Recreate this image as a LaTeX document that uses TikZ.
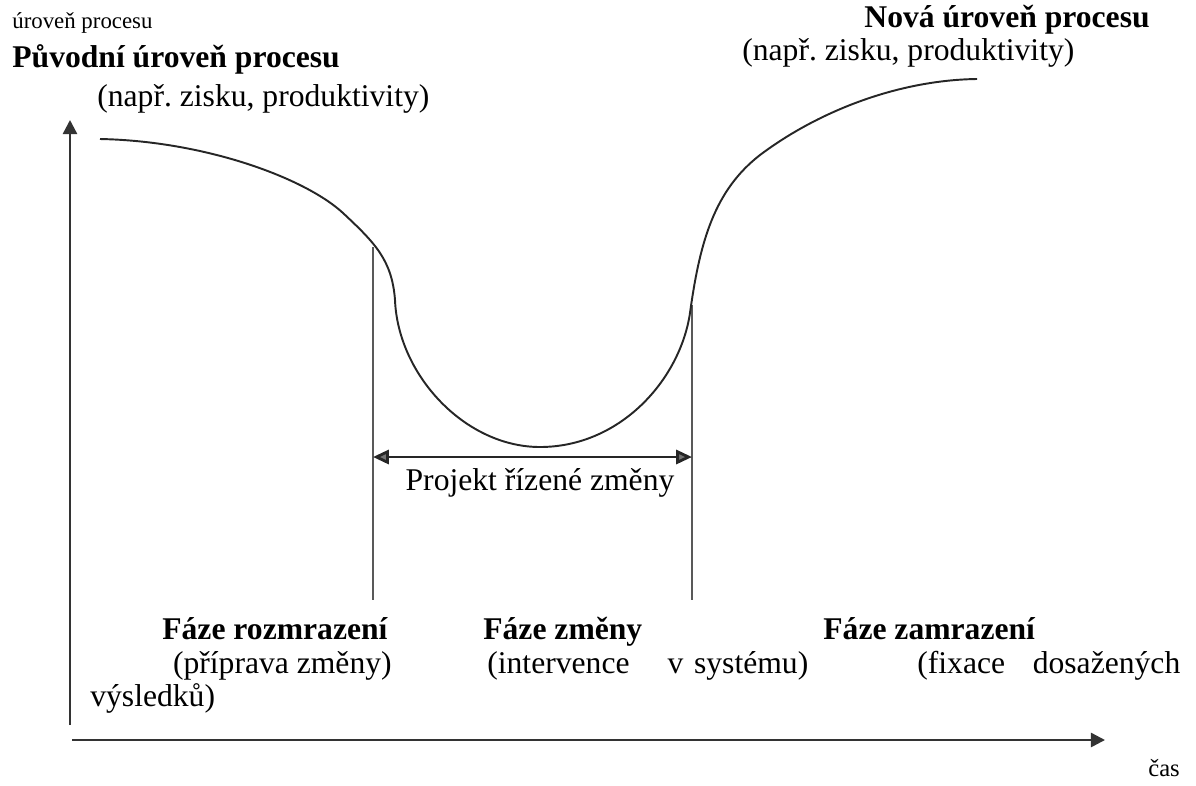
\documentclass[tikz,border=0pt]{standalone}
\usepackage{fontspec}
\setmainfont{Liberation Serif}
\usepackage{tikz}
\usetikzlibrary{positioning, arrows.meta}
\frenchspacing

\begin{document}
\begin{tikzpicture}[x=0.02cm, y=-0.02cm,
  txt/.style={inner sep=0pt, anchor=base west, font=\fontsize{18}{21}\selectfont},
  small/.style={inner sep=0pt, anchor=base west, font=\fontsize{13}{16}\selectfont},
  axis/.style={draw=black!80, line width=1.4pt, -{Triangle[length=8pt, width=8pt]}},
  phase/.style={draw=black!65, line width=0.8pt}]
\useasboundingbox (0,0) rectangle (1196,785);
% axes
\coordinate (ybot) at (70,725);
\coordinate (ytop) at (70,120);
\coordinate (xl) at (72,740);
\coordinate (xr) at (1105,740);
\draw[axis] (ybot) -- (ytop);
\draw[axis] (xl) -- (xr);
% phase boundaries
\coordinate (l1) at (373,247);
\coordinate (l2) at (373,600);
\coordinate (r1) at (692,305);
\coordinate (r2) at (692,600);
\draw[phase] (l1) -- (l2);
\draw[phase] (r1) -- (r2);
% process level curve
\draw[line width=1.1pt, black!85] (100,139) .. controls (205,141) and (305,178) .. (343,213)
  .. controls (375,243) and (392,260) .. (395,300)
  .. controls (398,375) and (465,447) .. (540,447)
  .. controls (620,447) and (680,380) .. (690,313)
  .. controls (700,240) and (715,190) .. (760,155)
  .. controls (820,110) and (900,80) .. (977,79);
% project span
\coordinate (pl) at (373,457);
\coordinate (pr) at (692,457);
\draw[line width=1.6pt, black!85, {Triangle[length=9pt, width=8pt, fill=black!55]}-{Triangle[length=9pt, width=8pt, fill=black!55]}] (pl) -- (pr);
\node[txt, anchor=base] (proj) at (540,490) {Projekt řízené změny};
% labels top
\node[small] (ylab) at (12,28) {úroveň procesu};
\node[txt] (orig) at (12,67) {\textbf{Původní úroveň procesu}};
\node[txt] (origx) at (97,106) {(např. zisku, produktivity)};
\node[txt, anchor=base east] (new) at (1150,27) {\textbf{Nová úroveň procesu}};
\node[txt] (newx) at (742,60) {(např. zisku, produktivity)};
% labels bottom
\node[txt] (unf) at (162,639) {\textbf{Fáze rozmrazení}};
\node[txt, anchor=base east] (unfx) at (392,673) {(příprava změny)};
\node[txt] (res) at (90,706) {výsledků)};
\node[txt] (chg) at (483,639) {\textbf{Fáze změny}};
\node[txt, text width=6.42cm] (chgx) at (487,673) {(intervence\hfill v systému)};
\node[txt] (frz) at (823,639) {\textbf{Fáze zamrazení}};
\node[txt, text width=5.26cm] (frzx) at (917,673) {(fixace\hfill dosažených};
\node[small, font=\fontsize{14}{17}\selectfont] (time) at (1148,776) {čas};
\end{tikzpicture}
\end{document}
